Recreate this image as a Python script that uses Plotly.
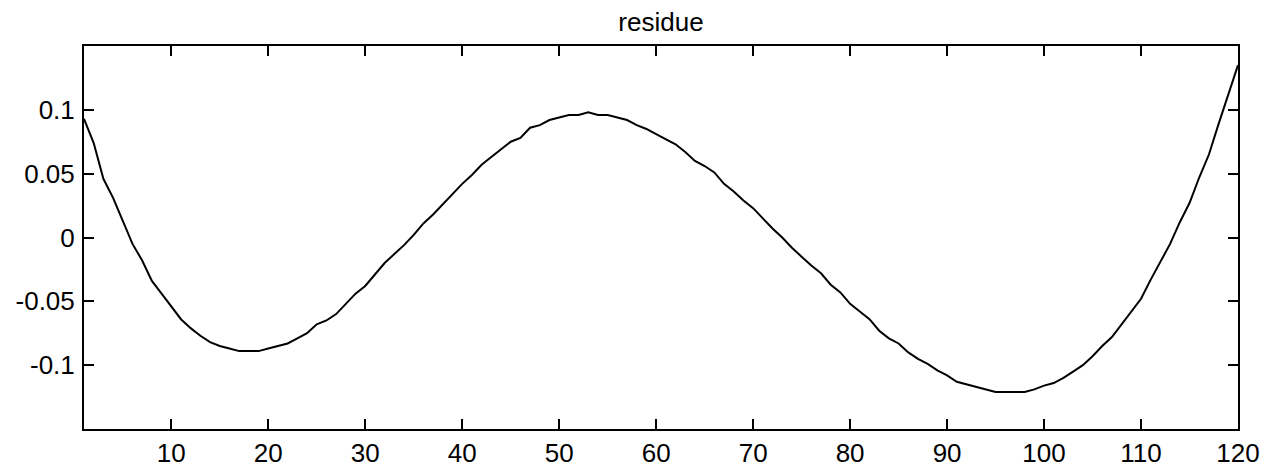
import plotly.graph_objects as go

x_values = list(range(1, 121))
residue = [
    0.093, 0.074, 0.046, 0.031, 0.013, -0.005, -0.018, -0.034, -0.044, -0.054,
    -0.064, -0.071, -0.077, -0.082, -0.085, -0.087, -0.089, -0.089, -0.089, -0.087,
    -0.085, -0.083, -0.079, -0.075, -0.068, -0.065, -0.060, -0.052, -0.044, -0.038,
    -0.029, -0.020, -0.013, -0.006, 0.002, 0.011, 0.018, 0.026, 0.034, 0.042,
    0.049, 0.057, 0.063, 0.069, 0.075, 0.078, 0.086, 0.088, 0.092, 0.094,
    0.096, 0.096, 0.098, 0.096, 0.096, 0.094, 0.092, 0.088, 0.085, 0.081,
    0.077, 0.073, 0.067, 0.060, 0.056, 0.051, 0.042, 0.036, 0.029, 0.023,
    0.015, 0.007, 0.000, -0.008, -0.015, -0.022, -0.028, -0.037, -0.043, -0.052,
    -0.058, -0.064, -0.073, -0.079, -0.083, -0.090, -0.095, -0.099, -0.104, -0.108,
    -0.113, -0.115, -0.117, -0.119, -0.121, -0.121, -0.121, -0.121, -0.119, -0.116,
    -0.114, -0.110, -0.105, -0.100, -0.093, -0.085, -0.078, -0.068, -0.058, -0.048,
    -0.033, -0.019, -0.005, 0.012, 0.027, 0.047, 0.065, 0.089, 0.112, 0.135,
]
x_ticks = [10, 20, 30, 40, 50, 60, 70, 80, 90, 100, 110, 120]
y_ticks = [-0.1, -0.05, 0, 0.05, 0.1]
y_tick_labels = ["-0.1", "-0.05", "0", "0.05", "0.1"]

FONT = "Liberation Sans, Arial, Helvetica, sans-serif"

fig = go.Figure(go.Scatter(x=x_values, y=residue, mode="lines",
                           line=dict(color="black", width=2)))

axis_common = dict(showline=True, linecolor="black", linewidth=2, mirror="ticks",
                   ticks="inside", ticklen=10, tickwidth=2, tickcolor="black",
                   showgrid=False, zeroline=False,
                   tickfont=dict(family=FONT, size=26, color="black"))

fig.update_layout(
    width=1269, height=469,
    margin=dict(l=84, r=31, t=46, b=40, autoexpand=False),
    paper_bgcolor="white", plot_bgcolor="white",
    showlegend=False,
    title=dict(text="residue", x=0.5, xref="paper", xanchor="center",
               y=1 - 22 / 469, yref="container", yanchor="middle",
               font=dict(family=FONT, size=26, color="black")),
    xaxis=dict(range=[1, 120], tickvals=x_ticks, ticklabelstandoff=0, **axis_common),
    yaxis=dict(range=[-0.15, 0.15], tickvals=y_ticks, ticktext=y_tick_labels,
               ticklabelstandoff=2, **axis_common),
)

fig.write_html("out.html", config={"displayModeBar": False},
               post_script="document.body.style.margin='0';document.body.style.padding='0';")
